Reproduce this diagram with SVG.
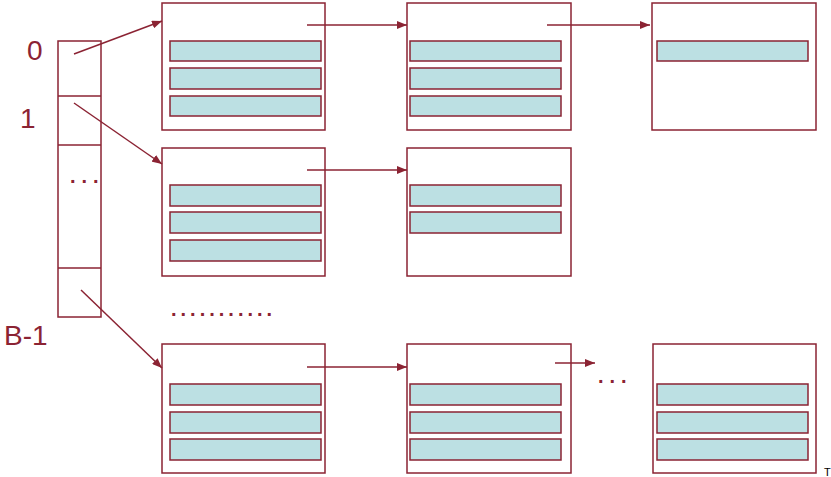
<svg xmlns="http://www.w3.org/2000/svg" width="831" height="477" viewBox="0 0 831 477">
<defs>
<marker id="ah" markerUnits="userSpaceOnUse" markerWidth="10" markerHeight="8" refX="10" refY="4" orient="auto">
<path d="M0,0 L10,4 L0,8 Z" fill="#8B2333"/>
</marker>
<style>
.box{fill:#ffffff;stroke:#8B2333;stroke-width:1.5}
.bar{fill:#BCE0E3;stroke:#8B2333;stroke-width:1.5}
.cell{fill:#ffffff;stroke:#8B2333;stroke-width:1.5}
.lbl{font-family:"Liberation Sans",Arial,sans-serif;font-size:28px;fill:#8B2333}
.dots{font-family:"Liberation Sans",Arial,sans-serif;font-size:20px;font-weight:bold;fill:#8B2333}
.conn{stroke:#8B2333;stroke-width:1.5;fill:none;marker-end:url(#ah)}
</style>
</defs>
<rect width="831" height="477" fill="#ffffff"/>
<g id="array">
<rect class="cell" x="58" y="41" width="43" height="276"/>
<line x1="58" y1="96" x2="101" y2="96" stroke="#8B2333" stroke-width="1.5"/>
<line x1="58" y1="145" x2="101" y2="145" stroke="#8B2333" stroke-width="1.5"/>
<line x1="58" y1="268" x2="101" y2="268" stroke="#8B2333" stroke-width="1.5"/>
<text class="dots" x="70" y="183" letter-spacing="6">...</text>
</g>
<g id="labels">
<text class="lbl" x="27" y="60">0</text>
<text class="lbl" x="20" y="128">1</text>
<text class="lbl" x="4" y="345">B-1</text>
</g>
<g id="b00">
<rect class="box" x="162" y="3" width="163" height="127"/>
<rect class="bar" x="170" y="41" width="151" height="20"/>
<rect class="bar" x="170" y="68" width="151" height="21"/>
<rect class="bar" x="170" y="96" width="151" height="20"/>
</g>
<g id="b01">
<rect class="box" x="407" y="3" width="164" height="127"/>
<rect class="bar" x="410" y="41" width="151" height="20"/>
<rect class="bar" x="410" y="68" width="151" height="21"/>
<rect class="bar" x="410" y="96" width="151" height="20"/>
</g>
<g id="b02">
<rect class="box" x="652" y="3" width="164" height="127"/>
<rect class="bar" x="657" y="41" width="151" height="20"/>
</g>
<g id="b10">
<rect class="box" x="162" y="148" width="163" height="128"/>
<rect class="bar" x="170" y="185" width="151" height="21"/>
<rect class="bar" x="170" y="212" width="151" height="21"/>
<rect class="bar" x="170" y="240" width="151" height="21"/>
</g>
<g id="b11">
<rect class="box" x="407" y="148" width="164" height="128"/>
<rect class="bar" x="410" y="185" width="151" height="21"/>
<rect class="bar" x="410" y="212" width="151" height="21"/>
</g>
<g id="rowdots">
<text class="dots" x="171" y="316" letter-spacing="4">...........</text>
</g>
<g id="b20">
<rect class="box" x="162" y="344" width="163" height="129"/>
<rect class="bar" x="170" y="384" width="151" height="21"/>
<rect class="bar" x="170" y="412" width="151" height="21"/>
<rect class="bar" x="170" y="439" width="151" height="21"/>
</g>
<g id="b21">
<rect class="box" x="407" y="344" width="164" height="129"/>
<rect class="bar" x="410" y="384" width="151" height="21"/>
<rect class="bar" x="410" y="412" width="151" height="21"/>
<rect class="bar" x="410" y="439" width="151" height="21"/>
</g>
<g id="enddots">
<text class="dots" x="598" y="383" letter-spacing="6">...</text>
</g>
<g id="b22">
<rect class="box" x="653" y="344" width="163" height="129"/>
<rect class="bar" x="657" y="384" width="151" height="21"/>
<rect class="bar" x="657" y="412" width="151" height="21"/>
<rect class="bar" x="657" y="439" width="151" height="21"/>
</g>
<g id="connectors">
<line class="conn" x1="74" y1="54" x2="162" y2="21"/>
<line class="conn" x1="74" y1="103" x2="162" y2="164"/>
<line class="conn" x1="81" y1="290" x2="162" y2="368"/>
<line class="conn" x1="307" y1="25" x2="407" y2="25"/>
<line class="conn" x1="547" y1="25" x2="650" y2="25"/>
<line class="conn" x1="307" y1="170" x2="407" y2="170"/>
<line class="conn" x1="307" y1="367" x2="407" y2="367"/>
<line class="conn" x1="555" y1="363" x2="595" y2="363"/>
</g>
<text x="824" y="476" font-family="'Liberation Sans',Arial,sans-serif" font-size="11" fill="#000000">T</text>
</svg>
